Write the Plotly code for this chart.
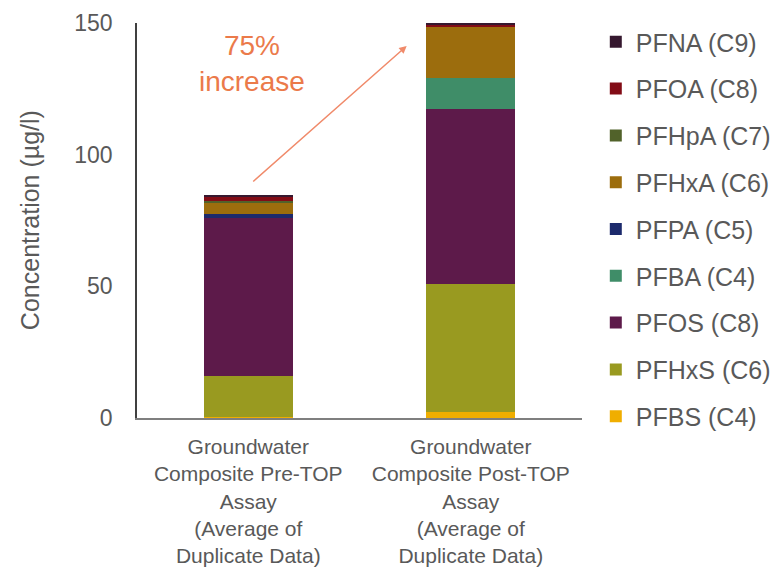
import plotly.graph_objects as go

categories = [
    "Groundwater<br>Composite Pre-TOP<br>Assay<br>(Average of<br>Duplicate Data)",
    "Groundwater<br>Composite Post-TOP<br>Assay<br>(Average of<br>Duplicate Data)",
]

# stacked bottom -> top
series_names = ["PFBS (C4)", "PFHxS (C6)", "PFOS (C8)", "PFBA (C4)", "PFPA (C5)",
                "PFHxA (C6)", "PFHpA (C7)", "PFOA (C8)", "PFNA (C9)"]
PFBS = [0.3, 2.2]
PFHxS = [15.6, 48.6]
PFOS = [60.1, 66.6]
PFBA = [0.0, 11.7]
PFPA = [1.6, 0.0]
PFHxA = [4.4, 19.4]
PFHpA = [0.5, 0.0]
PFOA = [1.6, 1.0]
PFNA = [0.3, 0.7]
series_values = [PFBS, PFHxS, PFOS, PFBA, PFPA, PFHxA, PFHpA, PFOA, PFNA]
colors = ["#F0AE00", "#999A20", "#5D1A4A", "#3F8D68", "#1C2A6C",
          "#9C6D0D", "#51622A", "#820C16", "#36182F"]

y_ticks = [0, 50, 100, 150]

fig = go.Figure()
n = len(series_names)
for i, (name, vals, col) in enumerate(zip(series_names, series_values, colors)):
    fig.add_trace(go.Bar(x=categories, y=vals, name=name, marker_color=col,
                         marker_line_width=0, legendgroup=name, width=0.4,
                         legendrank=n - i))

gray = "#595959"
fig.update_layout(
    template="none",
    barmode="stack",
    width=775, height=560,
    margin=dict(l=129, r=201, t=15, b=150, autoexpand=False),
    plot_bgcolor="white", paper_bgcolor="white",
    font=dict(family="Liberation Sans, Arial, sans-serif", color=gray),
    showlegend=True,
    legend=dict(traceorder="grouped", tracegroupgap=11.3, maxheight=560,
                x=1.031, xanchor="left", y=1.01, yanchor="top",
                font=dict(size=25, color=gray), bgcolor="rgba(0,0,0,0)"),
    xaxis=dict(showline=True, linecolor="#7F7F7F", linewidth=1.5, automargin=False,
               tickfont=dict(size=21, color=gray), ticks="", showgrid=False,
               ticklabelstandoff=9),
    yaxis=dict(range=[0, 150], tickvals=y_ticks, showline=True, automargin=False,
               linecolor="#404040", linewidth=1.5, showgrid=False, zeroline=False,
               ticks="", ticklabelstandoff=18,
               tickfont=dict(size=23, color=gray)),
)

fig.add_annotation(x=-0.2404, y=0.501, xref="paper", yref="paper", showarrow=False,
                   xanchor="center", yanchor="middle",
                   text="Concentration (µg/l)", textangle=-90,
                   font=dict(size=25, color=gray))
fig.add_annotation(x=0.712, y=141.3, ax=0.0155, ay=89.3, xref="x", yref="y",
                   axref="x", ayref="y", showarrow=True, arrowhead=2,
                   arrowsize=1, arrowwidth=1.5, arrowcolor="#F08A6A", text="")
fig.add_annotation(x=0.018, y=134.5, xref="x", yref="y", showarrow=False,
                   text="75%<br>increase",
                   font=dict(size=28, color="#EB7A4A"))

fig.write_html("out.html")
